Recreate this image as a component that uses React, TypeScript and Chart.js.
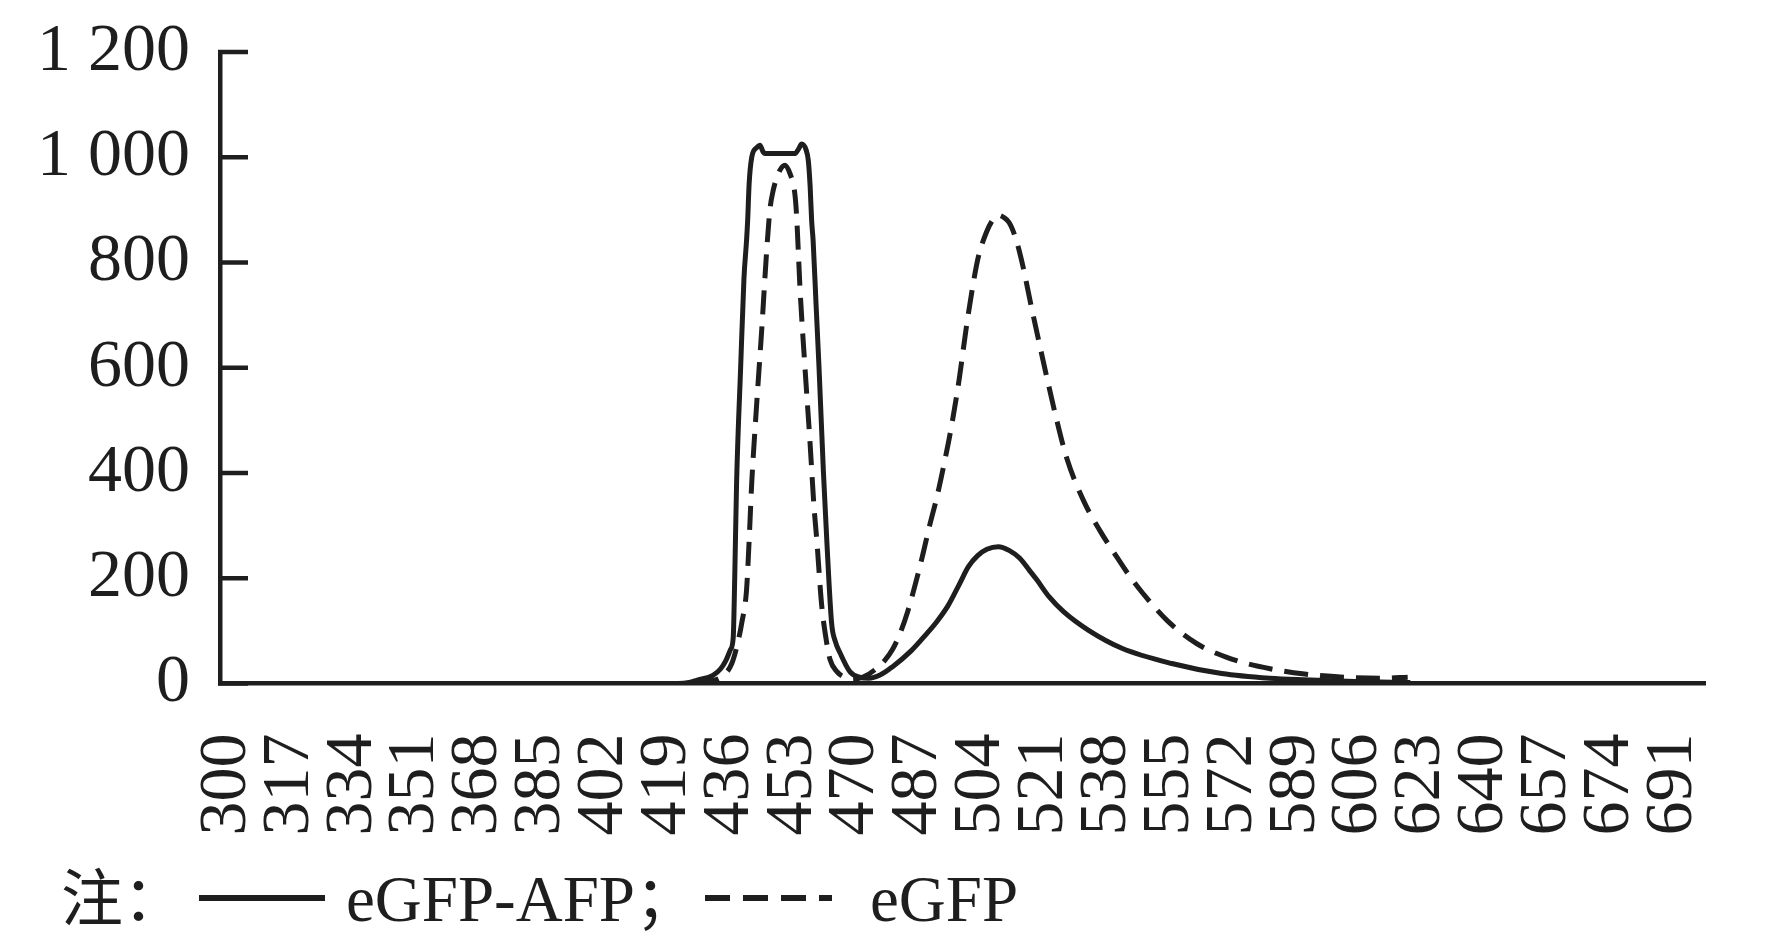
import { useEffect, useRef } from 'react';
import { Chart, registerables } from 'chart.js';

Chart.register(...registerables);

// ---- data (wavelength in nm, fluorescence intensity) ----
const afpWavelength = [
  300, 422, 425, 427, 431.5, 433.5, 435, 436.2, 436.9, 437.3, 437.8, 438.9, 439.8, 440.5, 440.8, 441.2,
  441.9, 443.2, 444.1, 445, 445.5, 453.6, 454.6, 455.4, 456.6, 457.2, 457.7, 458.1, 458.5, 459.3, 460.1,
  461.3, 462.2, 463.5, 464.5, 465.8, 468.5, 471, 473.5, 476.6, 480, 485, 489, 492, 495, 498, 500.5,
  503, 505.5, 508.6, 511.5, 514.4, 517, 519, 522.3, 526.3, 533, 542, 555.5, 569, 582, 591, 605, 620,
];
const afpIntensity = [
  0, 0, 2, 6, 16, 28, 45, 65, 88, 200, 380, 600, 770, 842, 880, 950,
  1000, 1018, 1023, 1010, 1007, 1007, 1016, 1025, 1014, 994, 944, 880, 842, 720, 600,
  400, 272, 115, 80, 58, 22, 12, 10, 16, 32, 62, 93, 118, 148, 188, 222,
  243, 255, 260, 253, 238, 215, 197, 165, 136, 101, 67, 38, 19, 10, 7, 4, 2,
];
const gfpWavelength = [
  300, 426, 430, 434, 436.5, 438.3, 439.2, 440.5, 441.2, 441.9, 443.2, 444.6, 445.9, 446.8, 447.7, 449.5,
  450.9, 452.3, 453.5, 454, 455, 456.3, 457.7, 458.7, 459.5, 460.8, 462, 463.1, 465, 466.7, 469, 472,
  475, 478, 480, 482, 484, 486, 488, 490, 492, 494, 496, 498, 500, 501.8, 503.2, 505.4,
  507, 508.6, 510, 511.5, 513, 514.4, 515.8, 517.1, 519.4, 521.6, 524.4, 527.1, 531.6, 536.1, 540.2, 544,
  547.6, 554.2, 562.2, 571.5, 582.1, 591.4, 602, 612.7, 619.3,
];
const gfpIntensity = [
  0, 0, 4, 14, 38, 83, 115, 178, 272, 381, 527, 672, 818, 899, 937, 975,
  985, 968, 934, 893, 745, 600, 454, 340, 272, 150, 85, 45, 22, 13, 8, 12,
  25, 45, 65, 95, 135, 185, 240, 300, 355, 420, 492, 578, 680, 760, 811, 858,
  880, 890, 886, 876, 852, 818, 775, 730, 655, 585, 500, 428, 348, 290, 245, 205,
  172, 120, 76, 47, 28, 18, 12, 10, 12,
];
const seriesNames = ['eGFP-AFP', 'eGFP'];
const xTickLabels = [
  300, 317, 334, 351, 368, 385, 402, 419, 436, 453, 470, 487, 504, 521, 538, 555, 572, 589, 606, 623, 640,
  657, 674, 691,
];
const yTickValues = [0, 200, 400, 600, 800, 1000, 1200];
const yTickLabels = ['0', '200', '400', '600', '800', '1 000', '1 200'];
const notePrefix = '注：';
const noteSeparator = '；';

const INK = '#1e1e1e';
const SERIF = '"Liberation Serif", "Times New Roman", serif';
const CJK = '"Noto Sans CJK SC", "Noto Sans CJK JP", sans-serif';

const innerTicks = {
  id: 'innerTicks',
  afterDatasetsDraw(chart: any) {
    const { ctx, chartArea, scales } = chart;
    const y = scales.y;
    ctx.save();
    ctx.strokeStyle = INK;
    ctx.lineWidth = 4.5;
    ctx.lineCap = 'butt';
    yTickValues.forEach((v) => {
      const py = y.getPixelForValue(v);
      ctx.beginPath();
      ctx.moveTo(chartArea.left - 2, py);
      ctx.lineTo(chartArea.left + 28, py);
      ctx.stroke();
    });
    ctx.restore();
  },
};

const noteLegend = {
  id: 'noteLegend',
  afterDraw(chart: any) {
    const { ctx } = chart;
    const baseY = 921;
    const lineY = 898;
    ctx.save();
    ctx.fillStyle = INK;
    ctx.strokeStyle = INK;
    ctx.textBaseline = 'alphabetic';
    ctx.textAlign = 'left';
    ctx.font = `62px ${CJK}`;
    ctx.fillText(notePrefix, 61, baseY);

    ctx.lineWidth = 6;
    ctx.setLineDash([]);
    ctx.beginPath();
    ctx.moveTo(199, lineY);
    ctx.lineTo(325, lineY);
    ctx.stroke();

    ctx.font = `65px ${SERIF}`;
    ctx.fillText(seriesNames[0], 346, baseY);
    const w = ctx.measureText(seriesNames[0]).width;
    ctx.font = `62px ${CJK}`;
    ctx.fillText(noteSeparator, 346 + w, baseY);

    ctx.setLineDash([25, 13]);
    ctx.beginPath();
    ctx.moveTo(705, lineY);
    ctx.lineTo(832, lineY);
    ctx.stroke();
    ctx.setLineDash([]);

    ctx.font = `65px ${SERIF}`;
    ctx.fillText(seriesNames[1], 870, baseY);
    ctx.restore();
  },
};

export default function App() {
  const ref = useRef<HTMLCanvasElement>(null);

  useEffect(() => {
    const canvas = ref.current;
    if (!canvas) return;
    const afpData = afpWavelength.map((x, i) => ({ x, y: afpIntensity[i] }));
    const gfpData = gfpWavelength.map((x, i) => ({ x, y: gfpIntensity[i] }));
    const chart = new Chart(canvas, {
      type: 'line',
      data: {
        datasets: [
          {
            label: seriesNames[0],
            data: afpData,
            borderColor: INK,
            borderWidth: 5,
            pointRadius: 0,
            cubicInterpolationMode: 'monotone',
            fill: false,
          },
          {
            label: seriesNames[1],
            data: gfpData,
            borderColor: INK,
            borderWidth: 5,
            borderDash: [24, 12],
            borderCapStyle: 'butt',
            pointRadius: 0,
            cubicInterpolationMode: 'monotone',
            fill: false,
          },
        ],
      },
      options: {
        responsive: false,
        animation: false,
        devicePixelRatio: 1,
        layout: { padding: { left: 0, right: 66, top: 52, bottom: 100.5 } },
        plugins: {
          legend: { display: false },
          tooltip: { enabled: false },
        },
        scales: {
          x: {
            type: 'linear',
            min: 298.1,
            max: 699.7,
            afterBuildTicks: (s: any) => {
              s.ticks = xTickLabels.map((v) => ({ value: v }));
            },
            afterFit: (s: any) => {
              s.height = 160;
              s.paddingLeft = 0;
              s.paddingRight = 0;
            },
            ticks: {
              autoSkip: false,
              minRotation: 90,
              maxRotation: 90,
              padding: 50,
              color: INK,
              font: { family: SERIF, size: 68 },
              callback: (v: any) => String(v),
            },
            grid: { display: false, drawTicks: false },
            border: { display: true, color: INK, width: 4.5 },
          },
          y: {
            min: 0,
            max: 1200,
            afterBuildTicks: (s: any) => {
              s.ticks = yTickValues.map((v) => ({ value: v }));
            },
            afterFit: (s: any) => {
              s.width = 220;
              s.paddingTop = 0;
              s.paddingBottom = 0;
            },
            ticks: {
              padding: 30,
              color: INK,
              font: { family: SERIF, size: 68 },
              callback: (_v: any, i: number) => yTickLabels[i],
            },
            grid: { display: false, drawTicks: false },
            border: { display: true, color: INK, width: 4.5 },
          },
        },
      },
      plugins: [innerTicks, noteLegend],
    });
    return () => chart.destroy();
  }, []);

  return (
    <div
      style={{
        position: 'fixed',
        left: 0,
        top: 0,
        width: 1771,
        height: 944,
        background: '#ffffff',
      }}
    >
      <canvas ref={ref} width={1771} height={944} style={{ display: 'block', width: 1771, height: 944 }} />
    </div>
  );
}
